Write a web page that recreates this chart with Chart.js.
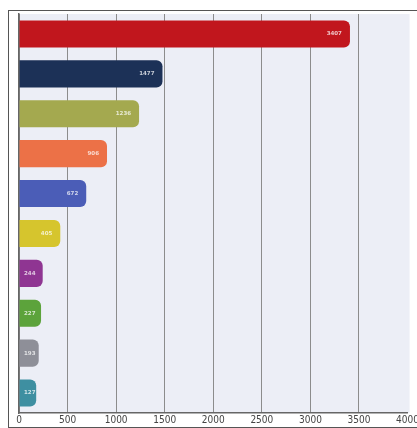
<!DOCTYPE html>
<html>
<head>
<meta charset="utf-8">
<script src="https://cdn.jsdelivr.net/npm/chart.js@4/dist/chart.umd.min.js"></script>
<style>
  html, body { margin: 0; padding: 0; background: #fff; overflow: hidden; }
  #frame { position: absolute; left: 8px; top: 10px; width: 420px; height: 416px;
           border: 1px solid #555; background: #fff; }
  #wrap { position: absolute; left: 0; top: 0; width: 411px; height: 416px; }
</style>
</head>
<body>
<div id="frame"><div id="wrap"><canvas id="mycanvas"></canvas></div></div>
<script>
var categories = ['A', 'B', 'C', 'D', 'E', 'F', 'G', 'H', 'I', 'J'];
var values = [3407, 1477, 1236, 906, 692, 425, 244, 227, 203, 177];
var valueLabels = ['3407', '1477', '1236', '906', '672', '405', '244', '227', '193', '127'];
var barColors = ['#c1161d', '#1c3157', '#a4a94f', '#ec7147', '#4b5db7', '#d6c52d',
                 '#8f3592', '#5ca33b', '#8e8f98', '#3e8fa1'];

var plotBg = {
  id: 'plotBg',
  beforeDraw: function(chart) {
    var a = chart.chartArea, c = chart.ctx;
    c.save();
    c.fillStyle = '#eceef6';
    c.fillRect(a.left, a.top, a.right - a.left + 2, a.bottom - a.top);
    c.restore();
  }
};

var barText = {
  id: 'barText',
  afterDatasetsDraw: function(chart) {
    var c = chart.ctx;
    var meta = chart.getDatasetMeta(0);
    c.save();
    c.fillStyle = 'rgba(255,255,255,0.75)';
    c.font = 'bold 5.5px "DejaVu Sans"';
    c.textAlign = 'right';
    c.textBaseline = 'middle';
    meta.data.forEach(function(bar, i) {
      var x = Math.max(bar.x - 8, bar.base + 16);
      c.fillText(valueLabels[i], x, bar.y);
    });
    c.restore();
  }
};

var ctx = document.getElementById('mycanvas');
var barGraph = new Chart(ctx, {
  type: 'bar',
  data: {
    labels: categories,
    datasets: [{
      data: values,
      backgroundColor: barColors,
      borderRadius: 6,
      borderSkipped: 'start',
      barPercentage: 0.68,
      categoryPercentage: 1
    }]
  },
  options: {
    indexAxis: 'y',
    responsive: true,
    maintainAspectRatio: false,
    animation: false,
    layout: { padding: { left: 2, top: 3, right: 0, bottom: 0 } },
    plugins: { legend: { display: false }, tooltip: { enabled: false } },
    scales: {
      x: {
        min: 0, max: 4000,
        ticks: {
          stepSize: 500, color: '#444', padding: 1,
          font: { size: 10, family: 'DejaVu Sans Condensed' },
          callback: function(v) { return String(v); }
        },
        grid: {
          drawTicks: false, lineWidth: 1,
          color: function(c) { return c.tick && c.tick.value === 4000 ? 'rgba(0,0,0,0)' : '#8c8c8c'; }
        },
        border: { color: '#666', width: 1.5 }
      },
      y: {
        ticks: { display: false },
        grid: { display: false },
        border: { color: '#666', width: 1.5 }
      }
    }
  },
  plugins: [plotBg, barText]
});
</script>
</body>
</html>
